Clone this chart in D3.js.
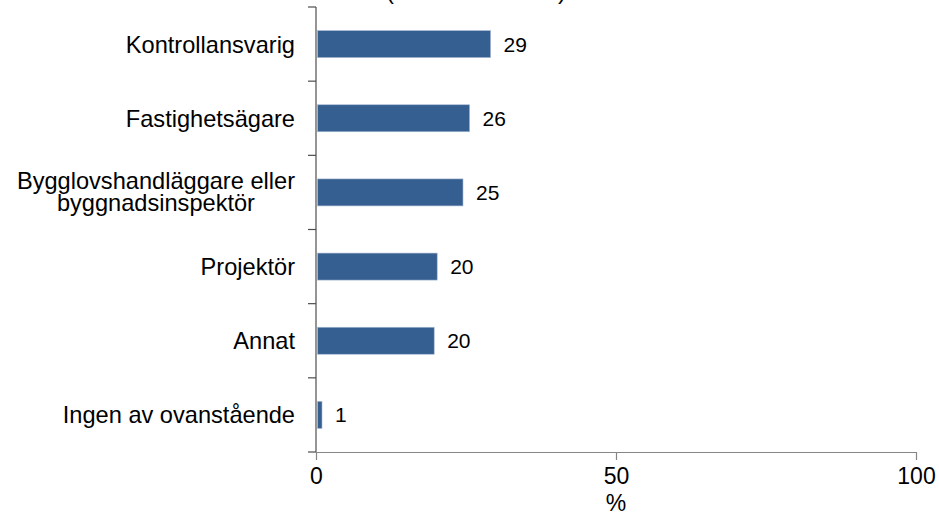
<!DOCTYPE html>
<html>
<head>
<meta charset="utf-8">
<script src="https://cdn.jsdelivr.net/npm/d3@7"></script>
<style>
  body { margin: 0; background: #fff; }
  svg text { font-family: "Liberation Sans", Arial, sans-serif; fill: #000; }
</style>
</head>
<body>
<div class="chart"></div>
<script>
// data
var categories = [
    ["Kontrollansvarig"],
    ["Fastighetsägare"],
    ["Bygglovshandläggare eller", "byggnadsinspektör"],
    ["Projektör"],
    ["Annat"],
    ["Ingen av ovanstående"]
];
var values = [29.1, 25.6, 24.5, 20.2, 19.7, 1.0];
var labels = ["29", "26", "25", "20", "20", "1"];
var xTicks = [0, 50, 100];

var width = 939, height = 517;
var plotLeft = 316, plotRight = 916, plotTop = 7, plotBottom = 452;

var svg = d3.select(".chart")
    .append("svg")
    .attr("width", width)
    .attr("height", height);

var x = d3.scaleLinear()
    .domain([0, 100])
    .range([plotLeft, plotRight]);

var y = d3.scaleBand()
    .domain(d3.range(categories.length))
    .range([plotTop, plotBottom])
    .paddingInner(0.636)
    .paddingOuter(0.318);

var step = y.step();

// title, cut off by the top edge (only the brackets show)
svg.append("text")
    .attr("x", 476)
    .attr("y", -1)
    .attr("text-anchor", "middle")
    .style("font-size", "24px")
    .text("(andel svarande)");

// bars
svg.selectAll("rect.bar")
    .data(values)
    .enter()
    .append("rect")
    .attr("class", "bar")
    .attr("x", x(0) + 1.5)
    .attr("y", function(d, i){ return y(i); })
    .attr("width", function(d){ return x(d) - x(0) - 1.5; })
    .attr("height", y.bandwidth())
    .style("fill", "#365f91")
    .style("stroke", "#a9bad3")
    .style("stroke-width", 0.6);

// value labels
svg.selectAll("text.val")
    .data(values)
    .enter()
    .append("text")
    .attr("class", "val")
    .attr("x", function(d){ return x(d) + 13; })
    .attr("y", function(d, i){ return y(i) + y.bandwidth() / 2; })
    .attr("dy", "0.36em")
    .style("font-size", "21px")
    .text(function(d, i){ return labels[i]; });

// y axis line + ticks at band edges
svg.append("line")
    .attr("x1", plotLeft).attr("x2", plotLeft)
    .attr("y1", plotTop).attr("y2", plotBottom)
    .style("stroke", "#4d4d4d")
    .style("stroke-width", 1.2);

svg.selectAll("line.ytick")
    .data(d3.range(categories.length + 1))
    .enter()
    .append("line")
    .attr("class", "ytick")
    .attr("x1", plotLeft - 8).attr("x2", plotLeft)
    .attr("y1", function(d){ return plotTop + d * step; })
    .attr("y2", function(d){ return plotTop + d * step; })
    .style("stroke", "#4d4d4d")
    .style("stroke-width", 1.2);

// x axis
var xAxis = svg.append("g")
    .attr("transform", "translate(0," + plotBottom + ")")
    .call(d3.axisBottom(x).tickValues(xTicks).tickSize(8).tickPadding(8).tickSizeOuter(0));

xAxis.select("path.domain").style("stroke", "#868686").style("stroke-width", 1.2);
xAxis.selectAll("line").style("stroke", "#868686").style("stroke-width", 1.2);
xAxis.selectAll("text")
    .style("font-size", "23px")
    .style("font-family", "'Liberation Sans', Arial, sans-serif")
    .attr("fill", "#000");

svg.append("text")
    .attr("x", x(50))
    .attr("y", 511)
    .attr("text-anchor", "middle")
    .style("font-size", "23px")
    .text("%");

// category labels, right aligned, multi-line ones centred on each other
var lineGap = 22;
categories.forEach(function(lines, i){
    var cy = y(i) + y.bandwidth() / 2;
    var g = svg.append("text")
        .style("font-size", "23.6px")
        .attr("text-anchor", "end");
    var y0 = cy - (lines.length - 1) * (lineGap / 2 + 1);
    lines.forEach(function(t, j){
        g.append("tspan")
            .attr("x", plotLeft - 21)
            .attr("y", y0 + j * lineGap)
            .attr("dy", "0.36em")
            .text(t);
    });
    if (lines.length > 1) {
        var spans = g.selectAll("tspan").nodes();
        var w = d3.max(spans, function(n){ return n.getComputedTextLength(); });
        g.attr("text-anchor", "middle");
        g.selectAll("tspan").attr("x", plotLeft - 21 - w / 2);
    }
});
</script>
</body>
</html>
